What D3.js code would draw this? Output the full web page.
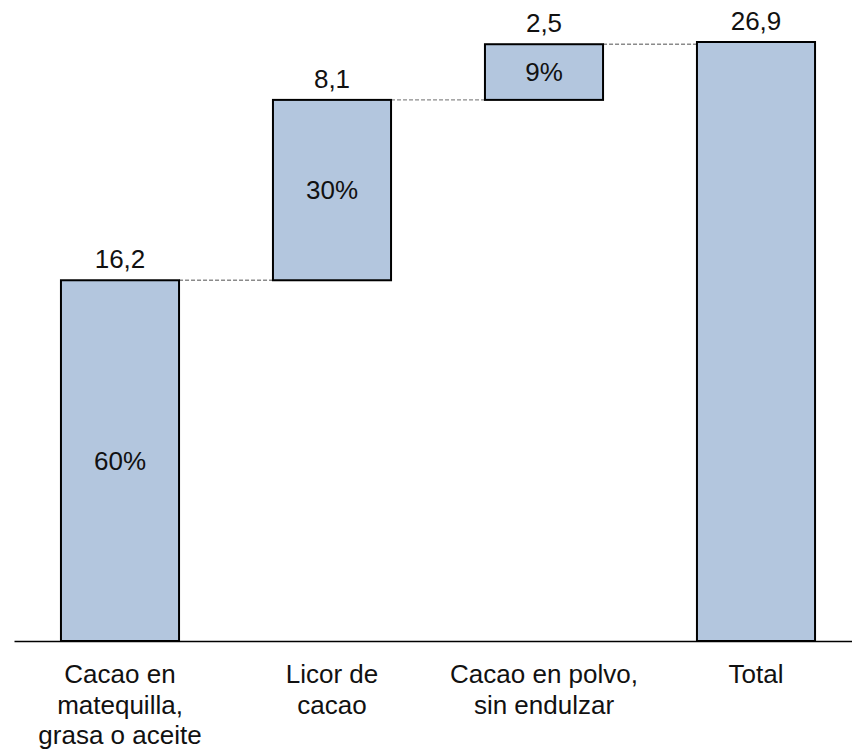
<!DOCTYPE html>
<html>
<head>
<meta charset="utf-8">
<script src="https://cdn.jsdelivr.net/npm/d3@7"></script>
<style>
  html, body { margin: 0; padding: 0; background: #ffffff; }
  svg { display: block; }
  text { font-family: "Liberation Sans", Arial, sans-serif; fill: #111; }
</style>
</head>
<body>
<svg id="chart" width="852" height="751"></svg>
<script>
// Composición del valor (waterfall): tres componentes y el total
const categories = [
  ["Cacao en", "matequilla,", "grasa o aceite"],
  ["Licor de", "cacao"],
  ["Cacao en polvo,", "sin endulzar"],
  ["Total"]
];
const values = [16.2, 8.1, 2.5];
const total = 26.9;
const valueLabels = ["16,2", "8,1", "2,5", "26,9"];
const shareLabels = ["60%", "30%", "9%"];

// Build step segments: each component starts where the previous one ended
let running = 0;
const segments = values.map((v, i) => {
  const seg = { i, y0: running, y1: running + v, label: valueLabels[i], share: shareLabels[i] };
  running += v;
  return seg;
});
segments.push({ i: 3, y0: 0, y1: total, label: valueLabels[3], share: null });

const svg = d3.select("#chart");
const baseY = 641, topY = 42;

const x = d3.scaleBand()
  .domain(d3.range(categories.length))
  .range([14, 862])
  .paddingInner(0.443)
  .paddingOuter(0.2215);

const y = d3.scaleLinear()
  .domain([0, total])
  .range([baseY, topY]);

// Dashed connectors between consecutive bars
svg.append("g")
  .selectAll("line")
  .data(segments.slice(0, -1))
  .join("line")
  .attr("x1", d => x(d.i) + x.bandwidth())
  .attr("x2", d => x(d.i + 1))
  .attr("y1", d => y(d.y1))
  .attr("y2", d => y(d.y1))
  .attr("stroke", "#8a8a8a")
  .attr("stroke-width", 1.3)
  .attr("stroke-dasharray", "4,2");

// Bars
svg.append("g")
  .selectAll("rect")
  .data(segments)
  .join("rect")
  .attr("x", d => x(d.i))
  .attr("width", x.bandwidth())
  .attr("y", d => y(d.y1))
  .attr("height", d => y(d.y0) - y(d.y1))
  .attr("fill", "#b3c6de")
  .attr("stroke", "#000")
  .attr("stroke-width", 2);

// Value labels above each bar
svg.append("g")
  .selectAll("text")
  .data(segments)
  .join("text")
  .attr("x", d => x(d.i) + x.bandwidth() / 2)
  .attr("y", d => y(d.y1) - 12)
  .attr("text-anchor", "middle")
  .attr("font-size", 26)
  .text(d => d.label);

// Share labels inside the component bars
svg.append("g")
  .selectAll("text")
  .data(segments.filter(d => d.share))
  .join("text")
  .attr("x", d => x(d.i) + x.bandwidth() / 2)
  .attr("y", d => (y(d.y0) + y(d.y1)) / 2 + 9)
  .attr("text-anchor", "middle")
  .attr("font-size", 26)
  .text(d => d.share);

// Category axis: baseline only, multi-line labels
const axis = svg.append("g")
  .attr("transform", `translate(0,${baseY})`)
  .call(d3.axisBottom(x).tickSize(0).tickFormat(""));
axis.select(".domain").attr("stroke", "#000").attr("stroke-width", 1.6);

axis.selectAll(".tick text").remove();
axis.selectAll(".tick")
  .append("text")
  .attr("text-anchor", "middle")
  .attr("font-size", 26)
  .attr("fill", "#111")
  .selectAll("tspan")
  .data(d => categories[d])
  .join("tspan")
  .attr("x", 0)
  .attr("y", (d, k) => 42 + k * 30.5)
  .text(d => d);
</script>
</body>
</html>
